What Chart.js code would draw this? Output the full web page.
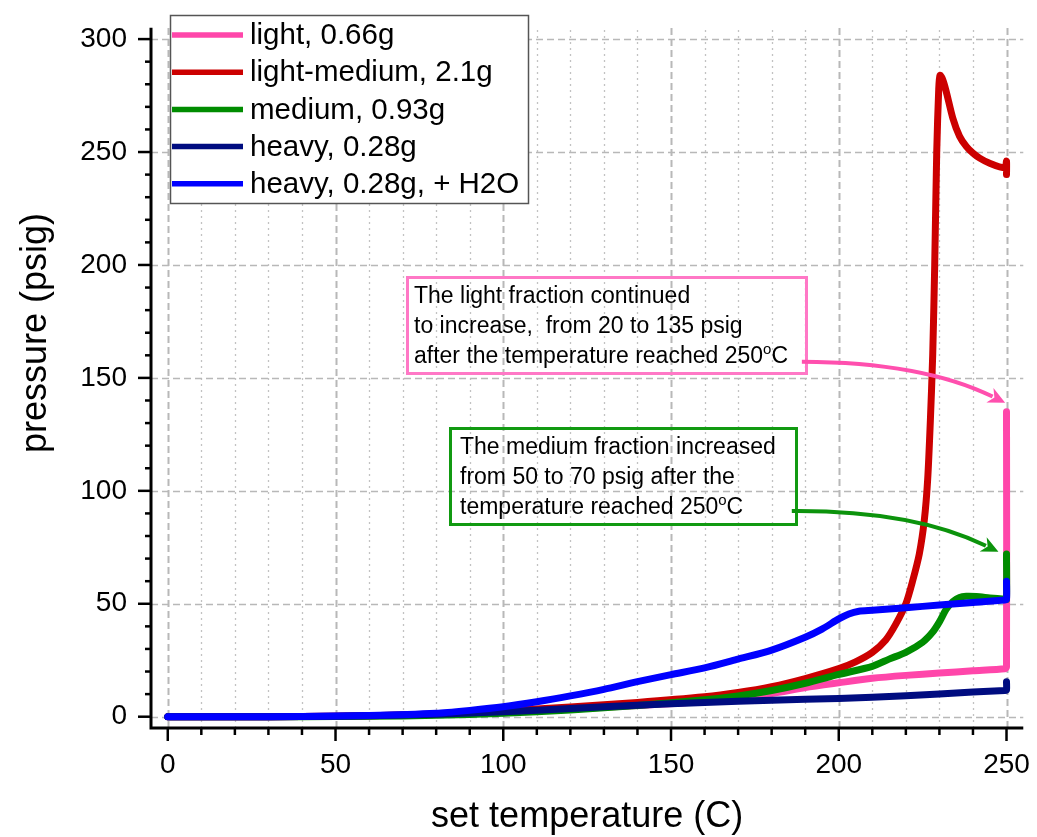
<!DOCTYPE html>
<html>
<head>
<meta charset="utf-8">
<style>
  html, body { margin: 0; padding: 0; background: #fff; }
  canvas { display: block; }
</style>
<script src="https://cdn.jsdelivr.net/npm/chart.js@4.4.1/dist/chart.umd.min.js"></script>
</head>
<body>
<canvas id="chart" width="1037" height="837"></canvas>
<script>
const xTicks = [0, 50, 100, 150, 200, 250];
const yTicks = [0, 50, 100, 150, 200, 250, 300];

const seriesLabels = ["light, 0.66g", "light-medium, 2.1g", "medium, 0.93g", "heavy, 0.28g", "heavy, 0.28g, + H2O"];
const seriesColors = ["#ff46aa", "#cc0000", "#008c00", "#000c80", "#0000ff"];

// [set temperature, pressure]
const light = [[0, 0], [20, 0], [40, 0.1], [60, 0.4], [80, 1.0], [100, 2.0], [120, 3.3], [140, 5.0], [155, 6.3],
  [170, 8.5], [180, 10.3], [190, 12.9], [200, 15.0], [210, 17.0], [220, 18.3], [230, 19.3], [240, 20.3],
  [249.5, 21.2], [250, 22], [250, 135]];
const lightMedium = [[0, 0], [20, 0], [40, 0.1], [60, 0.4], [80, 1.2], [100, 2.5], [120, 4.3], [140, 6.3],
  [160, 8.8], [170, 10.7], [180, 13.3], [190, 16.9], [200, 21.3], [205, 24.3], [210, 28.5], [214, 34],
  [217, 41], [220, 50], [222, 60], [224, 72], [225.5, 87], [226.5, 105], [227.3, 131], [228, 160],
  [228.6, 200], [229.2, 250], [229.8, 278], [230.2, 284], [231, 282], [232, 277], [234, 265], [236, 257],
  [238, 252.5], [240, 249.5], [242, 247.3], [245, 245], [249.5, 243], [250, 246], [250, 240]];
const medium = [[0, 0], [20, 0], [40, 0], [60, 0.2], [80, 0.6], [100, 1.5], [120, 3.0], [140, 5.0], [160, 7.5],
  [170, 9.2], [180, 11.6], [190, 14.8], [200, 18.7], [210, 22.3], [215, 25.5], [220, 28.5], [225, 33],
  [228, 37.5], [230, 42], [232, 47.5], [234, 51], [236, 52.8], [238, 53.3], [241, 53.2], [245, 52.6],
  [249.5, 52], [250, 52], [250, 72]];
const heavy = [[0, 0], [20, 0], [40, 0.1], [60, 0.4], [80, 1.1], [100, 2.2], [120, 3.6], [140, 5.1], [160, 6.3],
  [180, 7.3], [200, 8.1], [220, 9.3], [240, 10.9], [249.5, 11.6], [250, 11.8], [250, 15.5]];
const heavyWater = [[0, 0], [20, 0], [40, 0.1], [60, 0.5], [80, 1.5], [90, 2.8], [100, 4.4], [110, 6.6],
  [120, 9.2], [130, 12.1], [140, 15.5], [150, 18.6], [160, 21.6], [170, 25.5], [180, 29.5], [190, 35.2],
  [195, 38.8], [200, 43.3], [203, 45.5], [206, 46.7], [210, 47.1], [220, 48.2], [230, 49.5], [240, 50.6],
  [249.5, 51.7], [250, 52], [250, 60]];

const series = [light, lightMedium, medium, heavy, heavyWater];

const FONT = "'Liberation Sans', Arial, sans-serif";

const axesPlugin = {
  id: "axesGrid",
  beforeDatasetsDraw(chart) {
    const { ctx, chartArea: a, scales: { x, y } } = chart;
    ctx.save();
    for (let v = 0; v <= 250; v += 10) {
      const major = v % 50 === 0;
      const px = Math.round(x.getPixelForValue(v)) + 0.5;
      ctx.strokeStyle = major ? "#b8b8b8" : "#c2c2c2";
      ctx.lineWidth = major ? 2 : 1.3;
      ctx.setLineDash(major ? [7, 4] : [2, 4]);
      ctx.beginPath();
      ctx.moveTo(px, a.bottom);
      ctx.lineTo(px, a.top);
      ctx.stroke();
    }
    ctx.strokeStyle = "#b8b8b8";
    ctx.lineWidth = 1.5;
    ctx.setLineDash([7, 4]);
    for (const v of yTicks) {
      const py = Math.round(y.getPixelForValue(v)) + 0.5;
      ctx.beginPath();
      ctx.moveTo(a.left, py);
      ctx.lineTo(a.right, py);
      ctx.stroke();
    }
    ctx.restore();
  },
  afterDraw(chart) {
    const { ctx, chartArea: a, scales: { x, y } } = chart;
    ctx.save();
    ctx.strokeStyle = "#000";
    ctx.lineWidth = 3;
    ctx.lineCap = "butt";
    ctx.beginPath();
    ctx.moveTo(a.left, a.top);
    ctx.lineTo(a.left, a.bottom);
    ctx.lineTo(a.right, a.bottom);
    ctx.stroke();
    ctx.lineWidth = 2.5;
    for (let v = 0; v <= 250; v += 10) {
      const px = x.getPixelForValue(v);
      ctx.beginPath();
      ctx.moveTo(px, a.bottom);
      ctx.lineTo(px, a.bottom + (v % 50 === 0 ? 13 : 7));
      ctx.stroke();
    }
    for (let v = 0; v <= 300; v += 10) {
      const py = y.getPixelForValue(v);
      ctx.beginPath();
      ctx.moveTo(a.left, py);
      ctx.lineTo(a.left - (v % 50 === 0 ? 13 : 6), py);
      ctx.stroke();
    }

    // axis titles
    ctx.fillStyle = "#000";
    ctx.font = `36px ${FONT}`;
    ctx.textAlign = "center";
    ctx.textBaseline = "alphabetic";
    ctx.fillText("set temperature (C)", (a.left + a.right) / 2, 827);
    ctx.translate(46, 333);
    ctx.rotate(-Math.PI / 2);
    ctx.fillText("pressure (psig)", 0, 0);
    ctx.restore();
  }
};

function drawArrow(ctx, x, y, from, ctrl, tip, color) {
  const p0 = [x.getPixelForValue(from[0]), y.getPixelForValue(from[1])];
  const p1 = [x.getPixelForValue(ctrl[0]), y.getPixelForValue(ctrl[1])];
  const pt = [x.getPixelForValue(tip[0]), y.getPixelForValue(tip[1])];
  const dx = pt[0] - p1[0], dy = pt[1] - p1[1];
  const len = Math.hypot(dx, dy);
  const ux = dx / len, uy = dy / len;
  const head = 17, half = 8;
  const base = [pt[0] - ux * head, pt[1] - uy * head];
  ctx.strokeStyle = color;
  ctx.fillStyle = color;
  ctx.lineWidth = 4;
  ctx.beginPath();
  ctx.moveTo(p0[0], p0[1]);
  ctx.quadraticCurveTo(p1[0], p1[1], base[0] + ux * 3, base[1] + uy * 3);
  ctx.stroke();
  ctx.beginPath();
  ctx.moveTo(pt[0], pt[1]);
  ctx.lineTo(base[0] - uy * half, base[1] + ux * half);
  ctx.lineTo(base[0] + ux * 5, base[1] + uy * 5);
  ctx.lineTo(base[0] + uy * half, base[1] - ux * half);
  ctx.closePath();
  ctx.fill();
}

function drawNoteLine(ctx, text, sx, sy) {
  // "250^oC" with superscript o
  const parts = text.split("^o");
  ctx.font = `23px ${FONT}`;
  ctx.fillText(parts[0], sx, sy);
  if (parts.length > 1) {
    let cx = sx + ctx.measureText(parts[0]).width;
    ctx.font = `15px ${FONT}`;
    ctx.fillText("o", cx, sy - 9);
    cx += ctx.measureText("o").width;
    ctx.font = `23px ${FONT}`;
    ctx.fillText(parts[1], cx, sy);
  }
}

const overlayPlugin = {
  id: "overlay",
  afterDatasetsDraw(chart) {
    const { ctx, scales: { x, y } } = chart;
    ctx.save();

    // legend
    ctx.fillStyle = "#fff";
    ctx.fillRect(170, 15, 359, 189);
    ctx.strokeStyle = "#555";
    ctx.lineWidth = 1.5;
    ctx.strokeRect(170.5, 15.5, 358, 188);
    ctx.font = `29.5px ${FONT}`;
    ctx.textBaseline = "middle";
    ctx.textAlign = "left";
    seriesLabels.forEach((label, i) => {
      const ry = 35 + i * 37.2;
      ctx.strokeStyle = seriesColors[i];
      ctx.lineWidth = 5.5;
      ctx.beginPath();
      ctx.moveTo(172, ry);
      ctx.lineTo(243, ry);
      ctx.stroke();
      ctx.fillStyle = "#000";
      ctx.fillText(label, 250, ry + 1);
    });

    // notes
    ctx.lineWidth = 3;
    ctx.strokeStyle = "#ff78c6";
    ctx.strokeRect(407.5, 277.5, 399, 96);
    ctx.strokeStyle = "#119a11";
    ctx.strokeRect(450.5, 428.5, 346, 96);
    ctx.fillStyle = "#000";
    ctx.textBaseline = "alphabetic";
    drawNoteLine(ctx, "The light fraction continued", 414, 303);
    drawNoteLine(ctx, "to increase,  from 20 to 135 psig", 414, 333);
    drawNoteLine(ctx, "after the temperature reached 250^oC", 414, 363);
    drawNoteLine(ctx, "The medium fraction increased", 460, 454);
    drawNoteLine(ctx, "from 50 to 70 psig after the", 460, 484);
    drawNoteLine(ctx, "temperature reached 250^oC", 460, 514);

    drawArrow(ctx, x, y, [189, 157.2], [225, 157], [249.6, 139], "#ff4fae");
    drawArrow(ctx, x, y, [186, 91.1], [222, 91.5], [247.6, 73], "#0c930c");
    ctx.restore();
  }
};

new Chart(document.getElementById("chart"), {
  type: "scatter",
  data: {
    datasets: series.map((pts, i) => ({
      label: seriesLabels[i],
      data: pts.map(([t, p]) => ({ x: t, y: p })),
      showLine: true,
      borderColor: seriesColors[i],
      backgroundColor: seriesColors[i],
      borderWidth: 7,
      borderCapStyle: "round",
      borderJoinStyle: "round",
      pointRadius: 0,
      tension: 0.25,
      order: series.length - i
    }))
  },
  options: {
    responsive: false,
    animation: false,
    devicePixelRatio: 1,
    layout: { padding: { top: 19, right: 7, left: 0, bottom: 0 } },
    plugins: { legend: { display: false }, tooltip: { enabled: false } },
    scales: {
      x: {
        type: "linear",
        min: -5,
        max: 255,
        afterBuildTicks: (s) => { s.ticks = xTicks.map((v) => ({ value: v })); },
        afterFit: (s) => { s.height = 109; },
        grid: { display: false, drawTicks: true, tickLength: 13 },
        border: { display: false },
        ticks: { color: "#000", font: { family: FONT, size: 28 }, padding: 7, maxRotation: 0 }
      },
      y: {
        type: "linear",
        min: -5,
        max: 305,
        afterBuildTicks: (s) => { s.ticks = yTicks.map((v) => ({ value: v })); },
        afterFit: (s) => { s.width = 151; },
        grid: { display: false, drawTicks: true, tickLength: 13 },
        border: { display: false },
        ticks: { color: "#000", font: { family: FONT, size: 28 }, padding: 11 }
      }
    }
  },
  plugins: [axesPlugin, overlayPlugin]
});
</script>
</body>
</html>
